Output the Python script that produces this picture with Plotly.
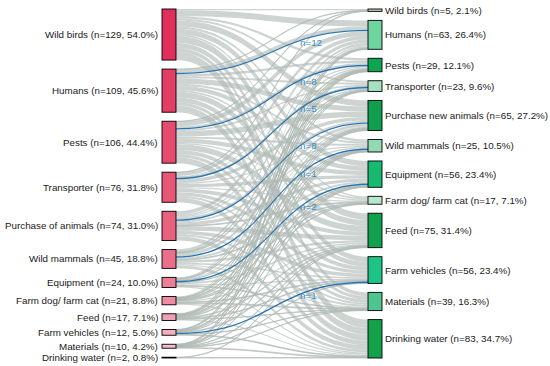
import plotly.graph_objects as go

# ---------------- data ----------------
left_labels = ["Wild birds", "Humans", "Pests", "Transporter", "Purchase of animals",
               "Wild mammals", "Equipment", "Farm dog/ farm cat", "Feed",
               "Farm vehicles", "Materials", "Drinking water"]
left_n = [129, 109, 106, 76, 74, 45, 24, 21, 17, 12, 10, 2]

right_labels = ["Wild birds", "Humans", "Pests", "Transporter", "Purchase new animals",
                "Wild mammals", "Equipment", "Farm dog/ farm cat", "Feed",
                "Farm vehicles", "Materials", "Drinking water"]
right_n = [5, 63, 29, 23, 65, 25, 56, 17, 75, 56, 39, 83]

n_total = 239

# estimated flow widths (rows: left categories, columns: right categories)
flow = [
    [3, 15, 6, 5, 15, 6, 14, 4, 17, 13, 10, 21],
    [1, 12, 6, 5, 13, 5, 11, 4, 15, 12, 8, 17],
    [1, 12, 8, 4, 14, 5, 11, 3, 15, 10, 8, 15],
    [1, 9, 3, 5, 9, 3, 8, 3, 10, 8, 5, 12],
    [0, 9, 4, 3, 8, 4, 8, 2, 11, 9, 5, 11],
    [0, 6, 2, 2, 7, 1, 5, 2, 6, 4, 3, 7],
    [0, 3, 1, 1, 3, 1, 2, 1, 4, 3, 2, 3],
    [0, 3, 1, 1, 2, 1, 2, 1, 3, 2, 2, 3],
    [0, 2, 1, 1, 2, 1, 2, 0, 2, 2, 1, 3],
    [0, 1, 1, 0, 2, 1, 1, 0, 2, 1, 1, 2],
    [0, 1, 1, 0, 1, 1, 1, 0, 1, 1, 1, 2],
    [0, 0, 0, 0, 0, 0, 0, 0, 1, 0, 0, 1],
]

# highlighted same-category links
hl_source = [1, 2, 3, 4, 5, 6, 9]
hl_target = [1, 2, 3, 4, 5, 6, 9]
hl_n = [12, 8, 5, 8, 1, 2, 1]

left_colors = ["#df2f5a", "#e23e66", "#e44b6e", "#e65676", "#e8617f", "#ea6f8b",
               "#ec7e97", "#ee8ca2", "#f1a0b3", "#f3aebf", "#f5bccb", "#c9a0ab"]
right_colors = ["#b7cdbf", "#6fd3a0", "#0ea552", "#a6e1c2", "#0f9f4e", "#93dab2",
                "#17ba70", "#b8e6cd", "#11a04d", "#1cc486", "#4ec58e", "#14a14c"]
left_border = "rgba(140,20,50,0.8)"
right_border = "rgba(10,100,55,0.8)"
gray = "rgba(176,185,180,0.62)"
blue = "rgba(31,111,174,0.95)"
blue_text = "#3a8dc6"

# ---------------- layout constants ----------------
W, H = 550, 366
ML, MR, MT, MB = 162, 168, 9, 8
DWID = W - ML - MR
DHGT = H - MT - MB
THICK = 14
PAD = 9
BLUE_W = 3.5      # drawn width (in flow units) of a highlighted link
FS = 9.8

nl = len(left_labels)
nr = len(right_labels)

# links
src, tgt, val, lcol = [], [], [], []
hl_set = set(zip(hl_source, hl_target))
for i in range(nl):
    for j in range(nr):
        v = flow[i][j] - (BLUE_W if (i, j) in hl_set else 0)
        if v > 0:
            src.append(i); tgt.append(nl + j); val.append(v); lcol.append(gray)
blue_idx = []
for s, t in zip(hl_source, hl_target):
    blue_idx.append(len(src))
    src.append(s); tgt.append(nl + t); val.append(BLUE_W); lcol.append(blue)

# node values and positions (stacked per column)
out_sum = [0.0] * (nl + nr)
in_sum = [0.0] * (nl + nr)
for s, t, v in zip(src, tgt, val):
    out_sum[s] += v
    in_sum[t] += v
node_val = [max(a, b) for a, b in zip(out_sum, in_sum)]
cols = [list(range(nl)), list(range(nl, nl + nr))]
ky = min((DHGT - (len(c) - 1) * PAD) / sum(node_val[k] for k in c) for c in cols)
node_y0 = [0.0] * (nl + nr)
node_h = [0.0] * (nl + nr)
for c in cols:
    tot = sum(node_val[k] for k in c) * ky + (len(c) - 1) * PAD
    y = (DHGT - tot) / 2
    for k in c:
        node_y0[k] = y
        node_h[k] = node_val[k] * ky
        y += node_h[k] + PAD
node_x = [THICK / 2 / DWID] * nl + [1 - THICK / 2 / DWID] * nr
node_y = [(node_y0[k] + node_h[k] / 2) / DHGT for k in range(nl + nr)]

# link end positions (same ordering rule as the sankey layout)
ly0 = [0.0] * len(src)
ly1 = [0.0] * len(src)
for k in range(nl + nr):
    outs = sorted([e for e in range(len(src)) if src[e] == k], key=lambda e: (node_y0[tgt[e]], e))
    y = node_y0[k]
    for e in outs:
        w = val[e] * ky
        ly0[e] = y + w / 2
        y += w
    ins = sorted([e for e in range(len(src)) if tgt[e] == k], key=lambda e: (node_y0[src[e]], e))
    y = node_y0[k]
    for e in ins:
        w = val[e] * ky
        ly1[e] = y + w / 2
        y += w

fig = go.Figure(go.Sankey(
    arrangement="fixed",
    node=dict(
        label=left_labels + right_labels,
        x=node_x, y=node_y,
        pad=PAD, thickness=THICK,
        color=left_colors + right_colors,
        line=dict(color=[left_border] * nl + [right_border] * nr, width=0.9),
    ),
    link=dict(source=src, target=tgt, value=val, color=lcol,
              line=dict(width=0)),
    textfont=dict(size=1, color="rgba(255,255,255,0)"),
))

ann = []
font = dict(family="Liberation Sans, Arial, sans-serif", size=FS, color="#1a1a1a")
for i in range(nl):
    pct = left_n[i] / n_total * 100
    yc = node_y0[i] + node_h[i] / 2
    ann.append(dict(x=-2 / DWID, y=1 - yc / DHGT, xref="paper", yref="paper",
                    xanchor="right", yanchor="middle", showarrow=False,
                    text=f"{left_labels[i]} (n={left_n[i]}, {pct:.1f}%)", font=font))
for j in range(nr):
    k = nl + j
    pct = right_n[j] / n_total * 100
    yc = node_y0[k] + node_h[k] / 2
    ann.append(dict(x=(DWID + 1) / DWID, y=1 - yc / DHGT, xref="paper", yref="paper",
                    xanchor="left", yanchor="middle", showarrow=False,
                    text=f"{right_labels[j]} (n={right_n[j]}, {pct:.1f}%)", font=font))

# "n=" labels along the highlighted links
lab_x = 298 - ML
lab_cx = lab_x + 8
x0, x1 = THICK, DWID - THICK
f = (lab_cx - x0) / (x1 - x0)
lo, hi = 0.0, 1.0
for _ in range(60):
    t = (lo + hi) / 2
    if 1.5 * t * (1 - t) + t ** 3 < f:
        lo = t
    else:
        hi = t
s_frac = 3 * t ** 2 - 2 * t ** 3
for e, n in zip(blue_idx, hl_n):
    yc = ly0[e] + (ly1[e] - ly0[e]) * s_frac
    ann.append(dict(x=lab_x / DWID, y=1 - yc / DHGT, xref="paper", yref="paper",
                    xanchor="left", yanchor="middle", showarrow=False, yshift=-4,
                    text=f"n={n}",
                    font=dict(family="Liberation Sans, Arial, sans-serif", size=FS, color=blue_text)))

fig.update_layout(
    width=W, height=H,
    margin=dict(l=ML, r=MR, t=MT, b=MB),
    paper_bgcolor="white", plot_bgcolor="white",
    annotations=ann,
    font=font,
)
fig.write_html("out.html", config={"displayModeBar": False},
               post_script="document.body.style.margin='0';document.body.style.overflow='hidden';")
